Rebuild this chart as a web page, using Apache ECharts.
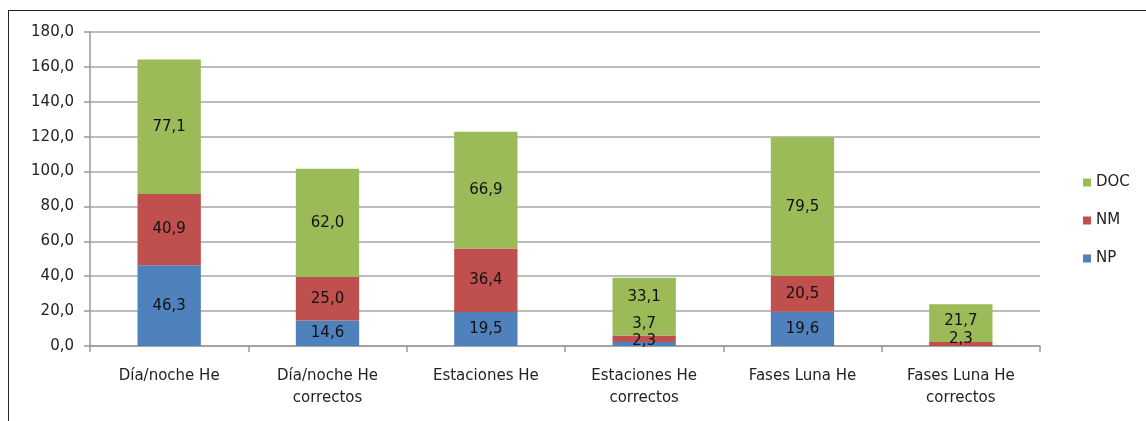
<!DOCTYPE html>
<html><head><meta charset="utf-8">
<script src="https://cdn.jsdelivr.net/npm/echarts@6/dist/echarts.min.js"></script>
<style>
html,body{margin:0;padding:0;background:#fff;}
#frame{position:absolute;left:8px;top:10px;width:1200px;height:500px;border-left:1.5px solid #222;border-top:1.5px solid #222;}
#c{position:absolute;left:0;top:0;width:1146px;height:421px;}
</style></head>
<body><div id="frame"></div><div id="c"></div>
<script>
const categories = ['Día/noche He', 'Día/noche He\ncorrectos', 'Estaciones He', 'Estaciones He\ncorrectos', 'Fases Luna He', 'Fases Luna He\ncorrectos'];
const NP = [46.3, 14.6, 19.5, 2.3, 19.6, null];
const NM = [40.9, 25.0, 36.4, 3.7, 20.5, 2.3];
const DOC = [77.1, 62.0, 66.9, 33.1, 79.5, 21.7];
const yTicks = {min: 0, max: 180, interval: 20};

const fontFam = 'DejaVu Sans';
const fmt = v => (v == null ? '' : v.toFixed(1).replace('.', ','));
function mk(name, data, color, offsets){
  return {
    name, type: 'bar', stack: 'total', barWidth: '40%',
    data: data.map((v, i) => offsets && offsets[i] ? {value: v, label: {offset: offsets[i]}} : v),
    itemStyle: {color},
    label: {show: true, position: 'inside', color: '#111', fontFamily: fontFam, fontSize: 15,
      formatter: p => fmt(p.value)},
    emphasis: {disabled: true}
  };
}
const chart = echarts.init(document.getElementById('c'));
chart.setOption({
  animation: false,
  backgroundColor: 'transparent',
  grid: {left: 90, right: 106, top: 32, bottom: 75},
  legend: {
    data: ['DOC', 'NM', 'NP'], orient: 'vertical', left: 1078, top: 170,
    itemWidth: 8, itemHeight: 8, itemGap: 23, icon: 'rect',
    textStyle: {fontFamily: fontFam, fontSize: 15, color: '#222'}
  },
  xAxis: {
    type: 'category', data: categories,
    axisLine: {lineStyle: {color: '#999', width: 1.5}},
    axisTick: {show: true, alignWithLabel: false, length: 6, lineStyle: {color: '#999', width: 1.5}},
    axisLabel: {fontFamily: fontFam, fontSize: 15, color: '#222', lineHeight: 22, margin: 19, interval: 0}
  },
  yAxis: {
    type: 'value', min: yTicks.min, max: yTicks.max, interval: yTicks.interval,
    axisLine: {show: true, lineStyle: {color: '#999', width: 1.5}},
    axisTick: {show: true, length: 6, lineStyle: {color: '#999', width: 1.5}},
    splitLine: {lineStyle: {color: '#a6a6a6', width: 1.5}},
    axisLabel: {fontFamily: fontFam, fontSize: 15, color: '#222', margin: 16, formatter: v => v.toFixed(1).replace('.', ',')}
  },
  series: [
    mk('NP', NP, '#4F81BD', [null, null, null, [0, -3], null, null]),
    mk('NM', NM, '#C0504D', [null, null, null, [0, -15], null, [0, -5]]),
    mk('DOC', DOC, '#9BBB59', [null, null, null, [0, -10], null, [0, -2]])
  ]
});
</script></body></html>
